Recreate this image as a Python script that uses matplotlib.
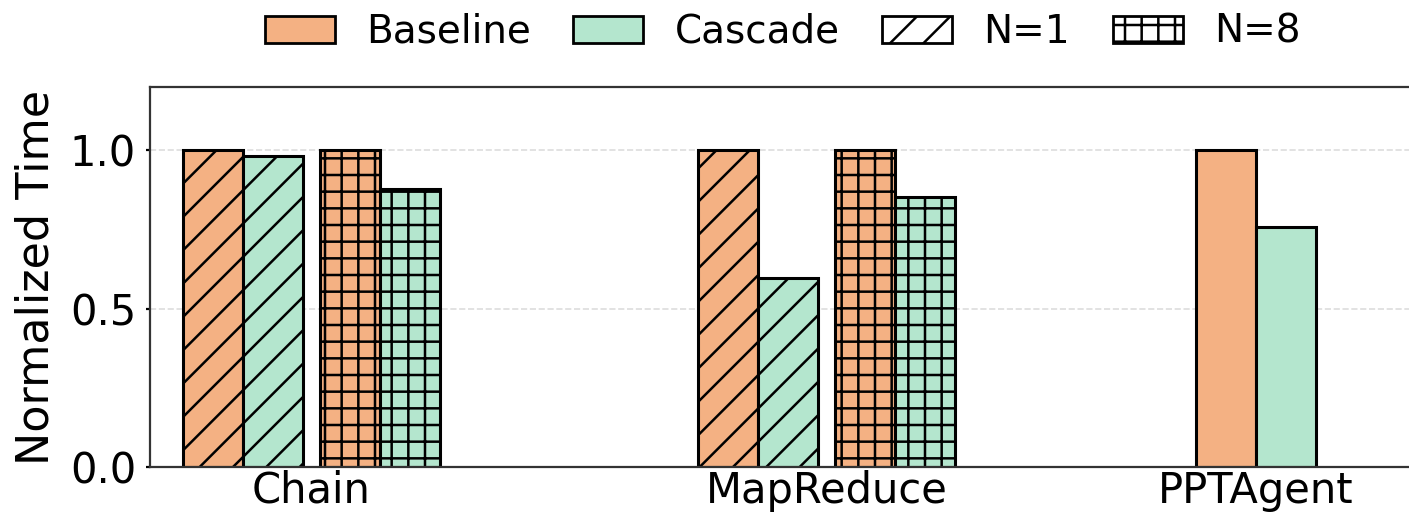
import matplotlib
matplotlib.use("Agg")
import matplotlib.pyplot as plt
from matplotlib.patches import Patch
import numpy as np

plt.rcParams['font.family'] = ['DejaVu Sans']
plt.rcParams['hatch.linewidth'] = 0.9

categories = ["Chain", "MapReduce", "PPTAgent"]
# values per category
baseline_n1 = [1.0, 1.0, 1.0]
cascade_n1 = [0.981, 0.597, 0.758]
baseline_n8 = [1.0, 1.0, None]
cascade_n8 = [0.879, 0.853, None]

c_base = '#F4B183'
c_casc = '#B4E6CE'

fig = plt.figure(figsize=(1409 / 200, 514 / 200), dpi=200)
ax = fig.add_axes([150 / 1409, 47 / 514, (1415 - 150) / 1409, 380 / 514])

w = 0.1165
gap = 0.033
centers = [0.0, 1.0, 1.834]
lw = 1.1

for i, c in enumerate(centers):
    if baseline_n8[i] is not None:
        off1 = [-(w * 1.5 + gap / 2), -(w * 0.5 + gap / 2)]
        off8 = [w * 0.5 + gap / 2, w * 1.5 + gap / 2]
        ax.bar(c + off1[0], baseline_n1[i], w, color=c_base, edgecolor='black', linewidth=lw, hatch='//')
        ax.bar(c + off1[1], cascade_n1[i], w, color=c_casc, edgecolor='black', linewidth=lw, hatch='//')
        ax.bar(c + off8[0], baseline_n8[i], w, color=c_base, edgecolor='black', linewidth=lw, hatch='++')
        ax.bar(c + off8[1], cascade_n8[i], w, color=c_casc, edgecolor='black', linewidth=lw, hatch='++')
    else:
        ax.bar(c - w / 2, baseline_n1[i], w, color=c_base, edgecolor='black', linewidth=lw)
        ax.bar(c + w / 2, cascade_n1[i], w, color=c_casc, edgecolor='black', linewidth=lw)

ax.set_xlim(-0.3136, 2.143)
ax.set_ylim(0, 1.2)
ax.set_yticks([0.0, 0.5, 1.0])
ax.set_yticklabels(['0.0', '0.5', '1.0'])
ax.set_xticks(centers)
ax.set_xticklabels(categories)
ax.tick_params(axis='x', length=0, labelsize=15, pad=1)
ax.tick_params(axis='y', labelsize=15, length=1.5, width=0.8)
ax.set_ylabel('Normalized Time', fontsize=16, labelpad=4.5)
ax.yaxis.grid(True, linestyle='--', color='#dddddd', linewidth=0.6)
ax.set_axisbelow(True)
for s in ax.spines.values():
    s.set_color('#333333')
    s.set_linewidth(0.8)

handles = [
    Patch(facecolor=c_base, edgecolor='black', label='Baseline'),
    Patch(facecolor=c_casc, edgecolor='black', label='Cascade'),
    Patch(facecolor='white', edgecolor='black', hatch='//', label='N=1'),
    Patch(facecolor='white', edgecolor='black', hatch='++', label='N=8'),
]
ax.legend(handles=handles, loc='center', bbox_to_anchor=(0.5, 1 + (87 - 32) / 380), ncol=4,
          frameon=False, fontsize=14, handlelength=1.8, columnspacing=1.1, handletextpad=0.8)

fig.savefig('out.png', dpi=200)
